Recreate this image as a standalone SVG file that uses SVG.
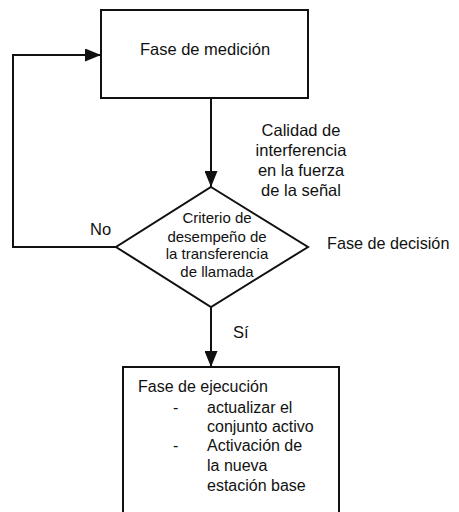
<svg xmlns="http://www.w3.org/2000/svg" width="459" height="512" viewBox="0 0 459 512">
<defs>
<marker id="ah" markerWidth="16" markerHeight="13" refX="16" refY="6.5" orient="auto" markerUnits="userSpaceOnUse">
<path d="M0,0 L16,6.5 L0,13 Z" fill="#111"/>
</marker>
</defs>
<style>
.shape{fill:#fff;stroke:#111;stroke-width:2}
.conn{fill:none;stroke:#111;stroke-width:2}
text{font-family:"Liberation Sans",Arial,sans-serif;fill:#111}
.t{font-size:16.5px}
.d{font-size:15px}
</style>
<rect width="459" height="512" fill="#fff"/>
<g id="connectors">
<path class="conn" d="M211,98 L211,187" marker-end="url(#ah)"/>
<path class="conn" d="M116,247 L13,247 L13,55 L101,55" marker-end="url(#ah)"/>
<path class="conn" d="M211,307 L211,367" marker-end="url(#ah)"/>
</g>
<g id="medicion">
<rect class="shape" x="101" y="10" width="207" height="88"/>
<text class="t" x="205" y="55" text-anchor="middle">Fase de medición</text>
</g>
<g id="calidad-label">
<text class="t" x="301" y="136" text-anchor="middle">Calidad de</text>
<text class="t" x="301" y="156" text-anchor="middle">interferencia</text>
<text class="t" x="301" y="176" text-anchor="middle">en la fuerza</text>
<text class="t" x="301" y="196" text-anchor="middle">de la señal</text>
</g>
<g id="decision">
<polygon class="shape" points="211,187 308,247 211,307 116,247"/>
<text class="d" x="217" y="223" text-anchor="middle">Criterio de</text>
<text class="d" x="217" y="241.5" text-anchor="middle">desempeño de</text>
<text class="d" x="217" y="259.3" text-anchor="middle">la transferencia</text>
<text class="d" x="217" y="277" text-anchor="middle">de llamada</text>
</g>
<g id="labels">
<text class="t" x="90" y="235">No</text>
<text class="t" x="327" y="249" style="font-size:16.2px">Fase de decisión</text>
<text class="t" x="233" y="338">Sí</text>
</g>
<g id="ejecucion">
<rect class="shape" x="123" y="367" width="216" height="150"/>
<text class="t" x="138" y="391.5" style="font-size:16px">Fase de ejecución</text>
<text class="t" x="173" y="412.5" style="font-size:16px">-</text>
<text class="t" x="207" y="412.5" style="font-size:16px">actualizar el</text>
<text class="t" x="207" y="431.5" style="font-size:16px">conjunto activo</text>
<text class="t" x="173" y="451" style="font-size:16px">-</text>
<text class="t" x="207" y="451" style="font-size:16px">Activación de</text>
<text class="t" x="207" y="470.5" style="font-size:16px">la nueva</text>
<text class="t" x="207" y="490.5" style="font-size:16px">estación base</text>
</g>
</svg>
